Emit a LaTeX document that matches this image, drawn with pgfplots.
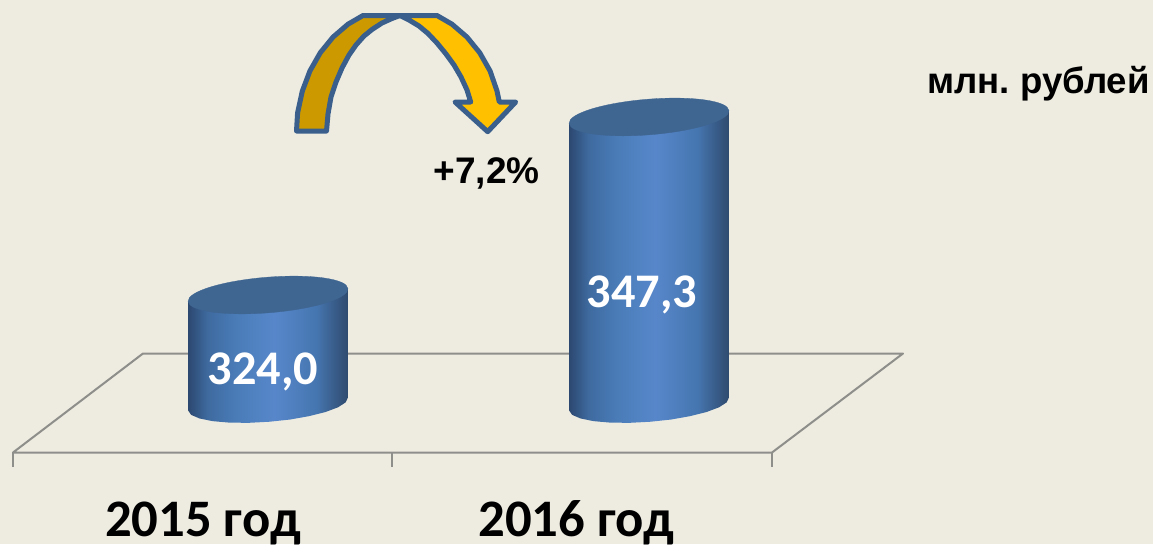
\documentclass[border=0pt]{standalone}
\usepackage{fontspec}
\setmainfont{Carlito}
\newfontfamily\arialfont{Liberation Sans}
\usepackage{pgfplots}
\usepackage{pgfplotstable}
\pgfplotsset{compat=1.18}

\definecolor{bg}{HTML}{EEECE1}
\definecolor{floorline}{HTML}{8E8E8A}
\definecolor{cyltop}{HTML}{3F6591}
\definecolor{arrowline}{HTML}{3A5F8C}
\definecolor{arrowdark}{HTML}{CC9A00}
\definecolor{arrowlight}{HTML}{FFC000}

% side of the cylinders, left to right
\definecolor{c0}{HTML}{2C4870}
\definecolor{c1}{HTML}{3E6A9F}
\definecolor{c2}{HTML}{4A7CB8}
\definecolor{c3}{HTML}{5787CA}
\definecolor{c4}{HTML}{4676B0}
\definecolor{c5}{HTML}{2F4A6E}
\pgfdeclarehorizontalshading{cyl}{100bp}{
  color(0bp)=(c0); color(25bp)=(c0); color(31bp)=(c1); color(40bp)=(c2);
  color(52bp)=(c3); color(65bp)=(c4); color(75bp)=(c5); color(100bp)=(c5)
}

% outline: lower arc in px round the base centre, then the two upper corners
\pgfplotstableread{
dx dy top
-79.9 6.4 0
-76.9 10.8 0
-68.6 14.4 0
-55.5 17.1 0
-38.7 18.6 0
-19.4 18.8 0
1.4 17.7 0
22.1 15.5 0
41.2 12.1 0
57.5 8.0 0
70.0 3.3 0
77.6 -1.6 0
79.9 -6.4 0
79.9 -6.4 1
-79.9 6.4 1
}\cylbody

\newcommand{\cylbase}{309.73}
\newcommand{\cylside}[2]{
  \addplot[draw=none, shade, shading=cyl, shading angle=0]
    table[x expr=#1+\thisrow{dx},
          y expr=\cylbase+\thisrow{top}*(#2-\cylbase)-\thisrow{dy}/7.64]{\cylbody} -- cycle;
}

\begin{document}
\begin{tikzpicture}
\useasboundingbox (0,0) rectangle (1153pt,544pt);
\fill[bg] (0,0) rectangle (1153pt,544pt);

% floor and arrow, in picture pixels
\begin{axis}[
    at={(0,0)}, anchor=south west,
    scale only axis, width=1153pt, height=544pt,
    xmin=0, xmax=1153, ymin=0, ymax=544, y dir=reverse,
    hide axis, clip=false,
]
\addplot[floorline, line width=2pt, line join=round] coordinates {
    (13,452.5) (143,353.5) (903,353.5) (772,452.5) (13,452.5)
};
\addplot[floorline, line width=2pt] coordinates {(13,452) (13,467)};
\addplot[floorline, line width=2pt] coordinates {(392,452) (392,467)};
\addplot[floorline, line width=2pt] coordinates {(772,452) (772,467)};

% left band of the arrow
\addplot[fill=arrowdark, draw=arrowline, line width=5pt, line join=round] coordinates {
    (296.5,131) (297.6,112.8) (302.3,91.2) (309.9,71) (320.3,52.7) (333.1,37) (348,24.2) (363,15.5)
    (400,15.5) (392,18.5) (382,23) (372,29.5) (364,36) (356,45) (349,55) (342,68) (336,82)
    (331,97) (328,114) (326.5,131)
} -- cycle;
% right band and head
\addplot[fill=arrowlight, draw=arrowline, line width=5pt, line join=round] coordinates {
    (400,15.5) (437,15.5) (452,24.2) (466.9,37) (479.7,52.7) (490.1,71) (497,91) (499.3,102)
    (515.7,102) (487.7,131.7) (455,102) (470.7,102) (467,90) (461,77) (454,65) (446,54)
    (437,43) (428,33.5) (419,26) (409,20)
} -- cycle;

\node[font=\arialfont\bfseries\fontsize{37}{37}\selectfont, black] at (axis cs:486.5,173) {+7,2\%};
\node[font=\arialfont\bfseries\fontsize{36.6}{36.6}\selectfont, black, inner sep=0pt] at (axis cs:1038.5,84) {млн.\ рублей};
\end{axis}

% cylinders, y in the chart's values
\begin{axis}[
    at={(0,0)}, anchor=south west,
    scale only axis, width=1153pt, height=544pt,
    xmin=0, xmax=1153, ymin=291.41, ymax=362.61,
    axis line style={draw=none}, major tick length=0pt,
    xtick={203,576.5}, xticklabels={2015 год,2016 год},
    ytick=\empty,
    xticklabel style={font=\bfseries\fontsize{52.7}{52.7}\selectfont, black, anchor=base, yshift=8pt},
    clip=false,
]
\cylside{268}{324.0}
\cylside{649}{347.3}
\addplot[only marks, mark=*, mark size=80.2pt,
    mark options={draw=cyltop, line width=0.3pt, fill=cyltop, rotate=4.6, yscale=0.222}]
    coordinates {(268,324.0) (649,347.3)};

\node[font=\bfseries\fontsize{48.3}{48.3}\selectfont, white] at (axis cs:263,313.9) {324,0};
\node[font=\bfseries\fontsize{48.3}{48.3}\selectfont, white] at (axis cs:642,324.0) {347,3};
\end{axis}
\end{tikzpicture}
\end{document}
